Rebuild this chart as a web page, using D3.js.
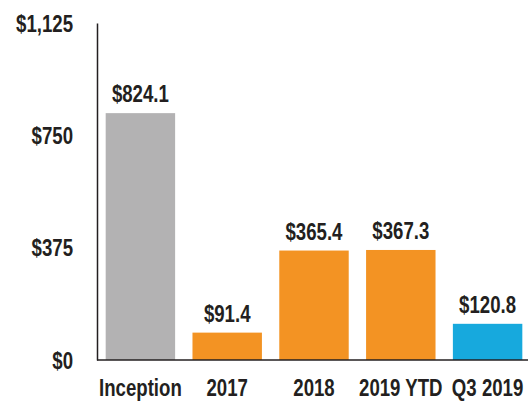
<!DOCTYPE html>
<html>
<head>
<meta charset="utf-8">
<script src="https://cdn.jsdelivr.net/npm/d3@7"></script>
<style>
  body { margin: 0; background: #fff; }
  text { font-family: "Liberation Sans", Arial, sans-serif; font-weight: bold; fill: #231f20; }
</style>
</head>
<body>
<div id="chart"></div>
<script>
const categories = ["Inception", "2017", "2018", "2019 YTD", "Q3 2019"];
const values = [824.1, 91.4, 365.4, 367.3, 120.8];
const valueLabels = ["$824.1", "$91.4", "$365.4", "$367.3", "$120.8"];
const barColors = ["#b3b2b3", "#f39323", "#f39323", "#f39323", "#17a9dd"];
const yTicks = [0, 375, 750, 1125];
const yTickLabels = ["$0", "$375", "$750", "$1,125"];

const width = 528, height = 406;
const margin = { top: 23, right: 0, bottom: 46, left: 97 };

const svg = d3.select("#chart").append("svg")
    .attr("width", width)
    .attr("height", height);

// scales
const x = d3.scaleBand()
    .domain(categories)
    .range([margin.left, margin.left + 434])
    .paddingInner(0.2)
    .paddingOuter(0.1);

const y = d3.scaleLinear()
    .domain([0, 1125])
    .range([height - margin.bottom, margin.top]);

// bars
svg.selectAll(".bar")
    .data(values)
    .enter().append("rect")
    .attr("class", "bar")
    .attr("x", (d, i) => x(categories[i]))
    .attr("width", x.bandwidth())
    .attr("y", d => y(d))
    .attr("height", d => y(0) - y(d))
    .style("fill", (d, i) => barColors[i]);

// value labels
svg.selectAll(".val")
    .data(values)
    .enter().append("text")
    .attr("class", "val")
    .attr("x", (d, i) => x(categories[i]) + x.bandwidth() / 2)
    .attr("y", d => y(d) - 11)
    .attr("text-anchor", "middle")
    .style("font-size", "23px")
    .text((d, i) => valueLabels[i]);

// y axis
const yAxis = svg.append("g")
    .attr("transform", `translate(${margin.left}, 0)`)
    .call(d3.axisLeft(y).tickValues(yTicks).tickSize(0).tickPadding(24)
        .tickFormat((d, i) => yTickLabels[i]));
yAxis.select(".domain").attr("stroke", "#231f20").attr("stroke-width", 1.5);
yAxis.selectAll("text").style("font-size", "23px").attr("dy", "0.35em");

// x axis
const xAxis = svg.append("g")
    .attr("transform", `translate(0, ${y(0)})`)
    .call(d3.axisBottom(x).tickSize(0).tickPadding(20));
xAxis.select(".domain").attr("d", `M${margin.left},0H${width}`)
    .attr("stroke", "#231f20").attr("stroke-width", 1.5);
xAxis.selectAll("text").style("font-size", "23px");

// squeeze text to look like the condensed face of the original
svg.selectAll("text").each(function() {
    const len = this.getComputedTextLength();
    d3.select(this).attr("textLength", len * 0.81).attr("lengthAdjust", "spacingAndGlyphs");
});
</script>
</body>
</html>
